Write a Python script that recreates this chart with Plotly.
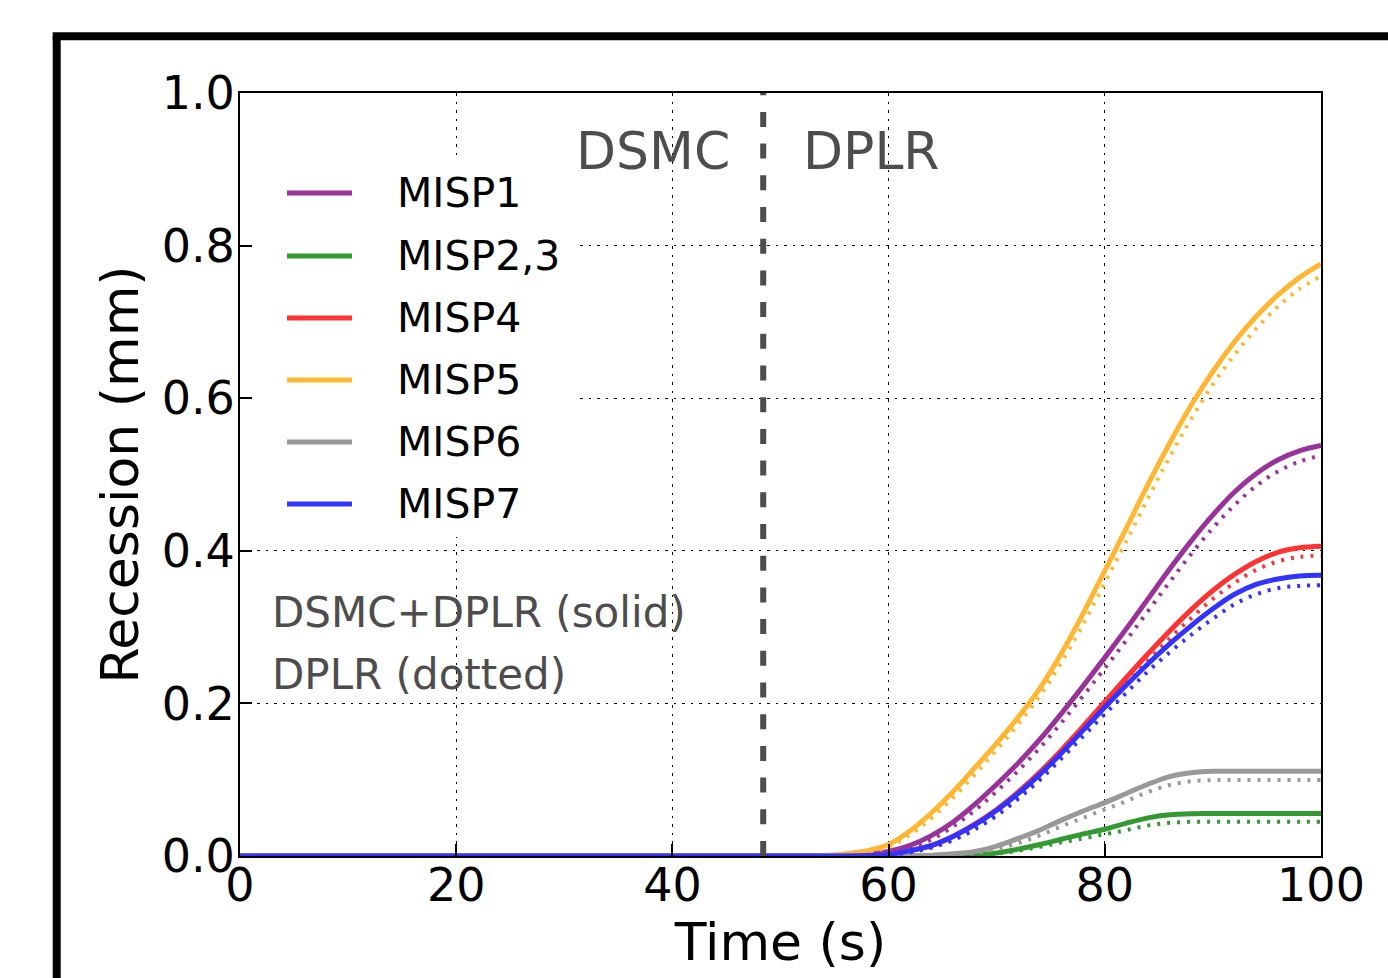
import plotly.graph_objects as go

# ---------------- data ----------------
time_s = [0, 50, 52, 54, 56, 58, 60, 62, 64, 66, 68, 70, 72, 74, 76, 78, 80,
          82, 84, 86, 88, 90, 92, 94, 96, 98, 100]

series_names = ["MISP1", "MISP2,3", "MISP4", "MISP5", "MISP6", "MISP7"]
series_colors = ["#993399", "#339933", "#ff3333", "#ffb733", "#999999", "#3333ff"]

# DSMC+DPLR (solid)
misp1_solid = [0, 0, 0, 0, 0.0005, 0.002, 0.006, 0.014, 0.027, 0.045, 0.068, 0.094, 0.122, 0.153,
               0.187, 0.223, 0.260, 0.298, 0.337, 0.376, 0.413, 0.447, 0.477, 0.501, 0.519, 0.531, 0.538]
misp23_solid = [0, 0, 0, 0, 0, 0, 0, 0, 0, 0, 0.001, 0.004, 0.009, 0.015,
                0.022, 0.029, 0.035, 0.043, 0.050, 0.054, 0.0555, 0.0557, 0.0557, 0.0557, 0.0557, 0.0557, 0.0557]
misp4_solid = [0, 0, 0, 0, 0, 0.0005, 0.002, 0.007, 0.014, 0.026, 0.042, 0.061, 0.084, 0.110,
               0.139, 0.170, 0.202, 0.234, 0.265, 0.295, 0.323, 0.348, 0.369, 0.386, 0.398, 0.404, 0.406]
misp5_solid = [0, 0, 0, 0.0005, 0.003, 0.007, 0.015, 0.033, 0.057, 0.085, 0.116, 0.148, 0.182, 0.220,
               0.266, 0.318, 0.374, 0.430, 0.487, 0.541, 0.591, 0.635, 0.674, 0.707, 0.735, 0.758, 0.776]
misp6_solid = [0, 0, 0, 0, 0, 0, 0, 0, 0.001, 0.003, 0.006, 0.013, 0.023, 0.034,
               0.047, 0.059, 0.070, 0.082, 0.094, 0.104, 0.109, 0.111, 0.111, 0.111, 0.111, 0.111, 0.111]
misp7_solid = [0, 0, 0, 0, 0, 0.0005, 0.002, 0.007, 0.014, 0.026, 0.041, 0.060, 0.082, 0.107,
               0.135, 0.165, 0.195, 0.224, 0.252, 0.278, 0.302, 0.324, 0.343, 0.356, 0.363, 0.367, 0.368]

# DPLR only (dotted)
misp1_dotted = [0, 0, 0, 0, 0.0003, 0.001, 0.004, 0.011, 0.022, 0.039, 0.060, 0.085, 0.112, 0.142,
                0.175, 0.210, 0.246, 0.283, 0.321, 0.359, 0.396, 0.430, 0.460, 0.485, 0.504, 0.517, 0.525]
misp23_dotted = [0, 0, 0, 0, 0, 0, 0, 0, 0, 0, 0.0005, 0.003, 0.007, 0.012,
                 0.018, 0.023, 0.0285, 0.034, 0.040, 0.0435, 0.0448, 0.045, 0.045, 0.045, 0.045, 0.045, 0.045]
misp4_dotted = [0, 0, 0, 0, 0, 0.0003, 0.001, 0.005, 0.012, 0.022, 0.037, 0.055, 0.078, 0.104,
                0.133, 0.164, 0.195, 0.226, 0.256, 0.285, 0.312, 0.337, 0.358, 0.375, 0.386, 0.392, 0.394]
misp5_dotted = [0, 0, 0, 0.0003, 0.002, 0.005, 0.012, 0.028, 0.050, 0.077, 0.107, 0.139, 0.173, 0.210,
                0.254, 0.304, 0.358, 0.413, 0.469, 0.523, 0.573, 0.618, 0.657, 0.691, 0.720, 0.743, 0.760]
misp6_dotted = [0, 0, 0, 0, 0, 0, 0, 0, 0, 0.002, 0.004, 0.009, 0.017, 0.027,
                0.039, 0.050, 0.061, 0.072, 0.084, 0.093, 0.098, 0.0995, 0.0996, 0.0996, 0.0996, 0.0996, 0.0996]
misp7_dotted = [0, 0, 0, 0, 0, 0.0003, 0.001, 0.005, 0.011, 0.021, 0.035, 0.053, 0.075, 0.100,
                0.128, 0.157, 0.186, 0.214, 0.242, 0.267, 0.290, 0.311, 0.330, 0.343, 0.351, 0.354, 0.355]

solid_values = [misp1_solid, misp23_solid, misp4_solid, misp5_solid, misp6_solid, misp7_solid]
dotted_values = [misp1_dotted, misp23_dotted, misp4_dotted, misp5_dotted, misp6_dotted, misp7_dotted]

switch_time = 48.4  # DSMC -> DPLR transition
x_ticks = [0, 20, 40, 60, 80, 100]
y_ticks = [0.0, 0.2, 0.4, 0.6, 0.8, 1.0]

# ---------------- layout geometry (pixels) ----------------
W, H = 1388, 978
PL, PR, PT, PB = 240, 1321, 93, 856


def px(xp):
    return (xp - PL) / (PR - PL)


def py(yp):
    return (PB - yp) / (PB - PT)


def dx(xp):
    return 100 * px(xp)


def dy(yp):
    return 1.0 * py(yp)


FONT = "DejaVu Sans"
GREY_TXT = "#4d4d4d"

fig = go.Figure()

for name, col, ys, yd in zip(series_names, series_colors, solid_values, dotted_values):
    fig.add_trace(go.Scatter(x=time_s, y=ys, mode="lines", name=name,
                             line=dict(color=col, width=5, shape="spline", smoothing=1.0),
                             showlegend=False))
    fig.add_trace(go.Scatter(x=time_s, y=yd, mode="lines", name=name + " (DPLR)",
                             line=dict(color=col, width=4, dash="3px,7px", shape="spline", smoothing=1.0),
                             showlegend=False))

shapes = []
# white legend box (between grid and traces)
shapes.append(dict(type="rect", xref="x", yref="y", layer="between",
                   x0=dx(241), x1=dx(577), y0=dy(537), y1=dy(158),
                   fillcolor="white", line=dict(width=0)))
# DSMC / DPLR switch line
shapes.append(dict(type="line", xref="x", yref="y", x0=switch_time, x1=switch_time, y0=0, y1=1,
                   line=dict(color=GREY_TXT, width=6, dash="15px,16.7px"), layer="above"))
# outer frame
shapes.append(dict(type="line", xref="paper", yref="paper", x0=px(56.7), x1=px(56.7),
                   y0=py(36.2), y1=py(1100), line=dict(color="black", width=8)))
shapes.append(dict(type="line", xref="paper", yref="paper", x0=px(52.7), x1=px(1500),
                   y0=py(36.2), y1=py(36.2), line=dict(color="black", width=8)))

annotations = []
legend_y = [193, 256, 318, 380, 442, 504]
for name, col, ly in zip(series_names, series_colors, legend_y):
    shapes.append(dict(type="line", xref="paper", yref="paper", x0=px(287), x1=px(352),
                       y0=py(ly), y1=py(ly), line=dict(color=col, width=5)))
    annotations.append(dict(x=px(395), y=py(ly), xref="paper", yref="paper", text=name,
                            showarrow=False, xanchor="left", yanchor="middle",
                            font=dict(family=FONT, size=41, color="black")))

annotations += [
    dict(x=px(732), y=py(151), xref="paper", yref="paper", text="DSMC", showarrow=False,
         xanchor="right", yanchor="middle", font=dict(family=FONT, size=52, color=GREY_TXT)),
    dict(x=px(801), y=py(151), xref="paper", yref="paper", text="DPLR", showarrow=False,
         xanchor="left", yanchor="middle", font=dict(family=FONT, size=52, color=GREY_TXT)),
    dict(x=px(270), y=py(612), xref="paper", yref="paper", text="DSMC+DPLR (solid)", showarrow=False,
         xanchor="left", yanchor="middle", font=dict(family=FONT, size=42, color=GREY_TXT)),
    dict(x=px(270), y=py(674), xref="paper", yref="paper", text="DPLR (dotted)", showarrow=False,
         xanchor="left", yanchor="middle", font=dict(family=FONT, size=42, color=GREY_TXT)),
]

axis_common = dict(showline=True, linecolor="black", linewidth=2, mirror=True,
                   ticks="inside", ticklen=12, tickwidth=1.5, tickcolor="black",
                   showgrid=True, gridcolor="black", gridwidth=1.2, griddash="2.5px,6px",
                   zeroline=False, tickfont=dict(family=FONT, size=46, color="black"))

fig.update_layout(
    width=W, height=H,
    margin=dict(l=PL, r=W - PR, t=PT, b=H - PB, pad=0),
    paper_bgcolor="white", plot_bgcolor="white",
    font=dict(family=FONT, color="black"),
    showlegend=False,
    xaxis=dict(range=[0, 100], tickvals=x_ticks, ticktext=[str(v) for v in x_ticks],
               ticklabelstandoff=-12,
               title=dict(text="Time (s)", font=dict(family=FONT, size=52), standoff=0),
               **axis_common),
    yaxis=dict(range=[0, 1.0], tickvals=y_ticks, ticktext=[f"{v:.1f}" for v in y_ticks],
               ticklabelstandoff=-6,
               title=dict(text="Recession (mm)", font=dict(family=FONT, size=52), standoff=6),
               **axis_common),
    shapes=shapes,
    annotations=annotations,
)

fig.write_html("out.html", config={"displayModeBar": False},
               post_script="document.body.style.margin='0px';document.body.style.overflow='hidden';")
